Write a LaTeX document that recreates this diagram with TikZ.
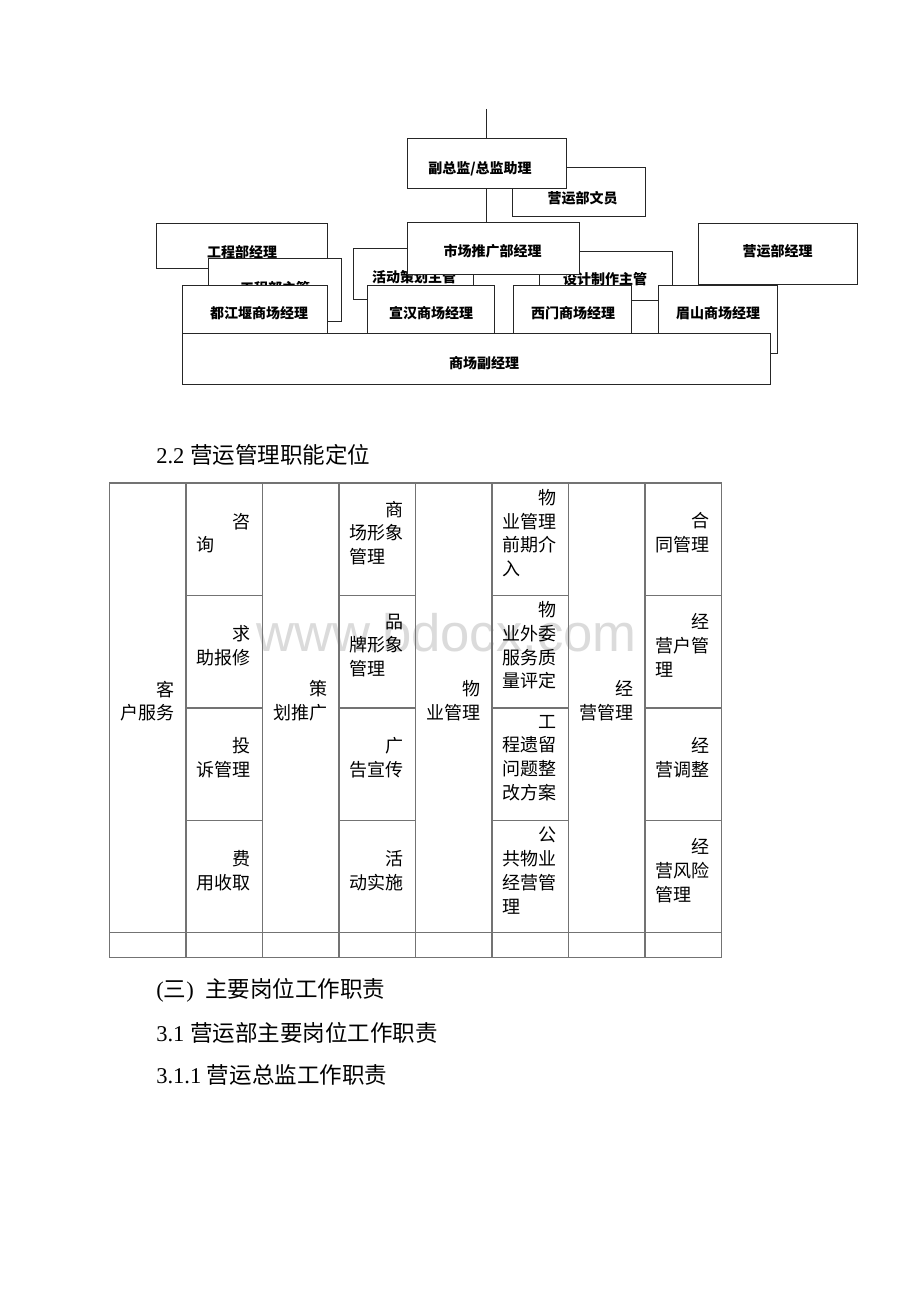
\documentclass[tikz,border=0pt]{standalone}
\usepackage{fontspec}
\setmainfont{Liberation Serif}
\newfontfamily\cjk{Noto Sans CJK SC}
\newfontfamily\wmfont{Liberation Sans}
\usetikzlibrary{fit}
\newcommand\obx[8]{%
  \node[obox,fit={(#2,#3) (#4,#5)}] (#1) {};
  \node[otext] (#1t) at (#6,#7) {#8};}
\begin{document}
\begin{tikzpicture}[x=0.75pt,y=-0.75pt,
  obox/.style={draw=black!85,line width=0.75pt,fill=white,inner sep=0pt},
  oline/.style={draw=black!85,line width=0.75pt},
  otext/.style={font=\cjk\bfseries\fontsize{10.5}{12}\selectfont,inner sep=0pt},
  tline/.style={draw=black!55,line width=1pt},
  tcell/.style={font=\cjk\fontsize{13.5}{17.8}\selectfont,text width=40.5pt,align=left,inner sep=0pt},
  head/.style={font=\fontsize{16.9}{20}\selectfont,anchor=west,inner sep=0pt},
  wmark/.style={font=\wmfont\fontsize{39.5}{40}\selectfont,text=black!14,anchor=base west,inner sep=0pt}]
\useasboundingbox (0,0) rectangle (920,1302);
\fill[white] (0,0) rectangle (920,1302);

% ---------------- org chart ----------------
\obx{wy}{512}{168}{645}{216}{582.5}{198}{营运部文员}
\obx{fu}{407}{139}{566}{188}{480}{169}{副总监/总监助理}
\coordinate (top) at (486.5,109);
\draw[oline] (top) -- (top |- fu.north);
\obx{gj}{156}{223}{327}{268}{242}{252}{工程部经理}
\obx{gz}{208}{258}{341}{321}{275}{288}{工程部主管}
\obx{hd}{353}{248}{473}{299}{414}{277}{活动策划主管}
\obx{sj}{539}{251}{672}{300}{605}{279}{设计制作主管}
\obx{sc}{407}{222}{579}{274}{492.5}{251.5}{市场推广部经理}
\draw[oline] (fu.south) -- (fu.south |- sc.north);
\obx{yj}{698}{223}{857}{284}{777.5}{251.5}{营运部经理}
\obx{ms}{658}{285}{777}{353}{718}{313}{眉山商场经理}
\obx{dj}{182}{285}{327}{333}{259}{313}{都江堰商场经理}
\obx{xh}{367}{285}{494}{333}{431}{313}{宣汉商场经理}
\obx{xm}{513}{285}{631}{333}{573}{313}{西门商场经理}
\obx{fj}{182}{333}{770}{384}{484}{363}{商场副经理}

% ---------------- heading ----------------
\node[head] (h22) at (156,455) {2.2 {\cjk 营运管理职能定位}};

% ---------------- watermark ----------------
\node[wmark] (wm) at (256,651) {www.bdocx.com};

% ---------------- table ----------------
\draw[tline] (109.5,483) rectangle (721.5,957.5);
\foreach \x in {186,262.5,339,415.5,492,568.5,645}
  \draw[tline] (\x,483) -- (\x,957.5);
\draw[tline] (109.5,932.5) -- (721.5,932.5);
\foreach \y in {595.5,708,820.5}
  \foreach \x in {186,339,492,645}
    \draw[tline] (\x,\y) -- (\x+76.5,\y);

% column 1
\node[tcell] (k1) at (109.5+37.5,701) {\hfill 客\\户服务};
% column 2
\node[tcell] (k21) at (186+37.5,533) {\hfill 咨\\询};
\node[tcell] (k22) at (186+37.5,645.5) {\hfill 求\\助报修};
\node[tcell] (k23) at (186+37.5,758) {\hfill 投\\诉管理};
\node[tcell] (k24) at (186+37.5,870.5) {\hfill 费\\用收取};
% column 3
\node[tcell] (k3) at (262.5+37.5,701) {\hfill 策\\划推广};
% column 4
\node[tcell] (k41) at (339+37.5,533) {\hfill 商\\场形象\\管理};
\node[tcell] (k42) at (339+37.5,645.5) {\hfill 品\\牌形象\\管理};
\node[tcell] (k43) at (339+37.5,758) {\hfill 广\\告宣传};
\node[tcell] (k44) at (339+37.5,870.5) {\hfill 活\\动实施};
% column 5
\node[tcell] (k5) at (415.5+37.5,701) {\hfill 物\\业管理};
% column 6
\node[tcell] (k61) at (492+37.5,533) {\hfill 物\\业管理\\前期介\\入};
\node[tcell] (k62) at (492+37.5,645.5) {\hfill 物\\业外委\\服务质\\量评定};
\node[tcell] (k63) at (492+37.5,758) {\hfill 工\\程遗留\\问题整\\改方案};
\node[tcell] (k64) at (492+37.5,870.5) {\hfill 公\\共物业\\经营管\\理};
% column 7
\node[tcell] (k7) at (568.5+37.5,701) {\hfill 经\\营管理};
% column 8
\node[tcell] (k81) at (645+37.5,533) {\hfill 合\\同管理};
\node[tcell] (k82) at (645+37.5,645.5) {\hfill 经\\营户管\\理};
\node[tcell] (k83) at (645+37.5,758) {\hfill 经\\营调整};
\node[tcell] (k84) at (645+37.5,870.5) {\hfill 经\\营风险\\管理};

% ---------------- lower headings ----------------
\node[head] (h3) at (156,990) {({\cjk 三})\ \ {\cjk 主要岗位工作职责}};
\node[head] (h31) at (156,1033) {3.1 {\cjk 营运部主要岗位工作职责}};
\node[head] (h311) at (156,1075) {3.1.1 {\cjk 营运总监工作职责}};
\end{tikzpicture}
\end{document}
